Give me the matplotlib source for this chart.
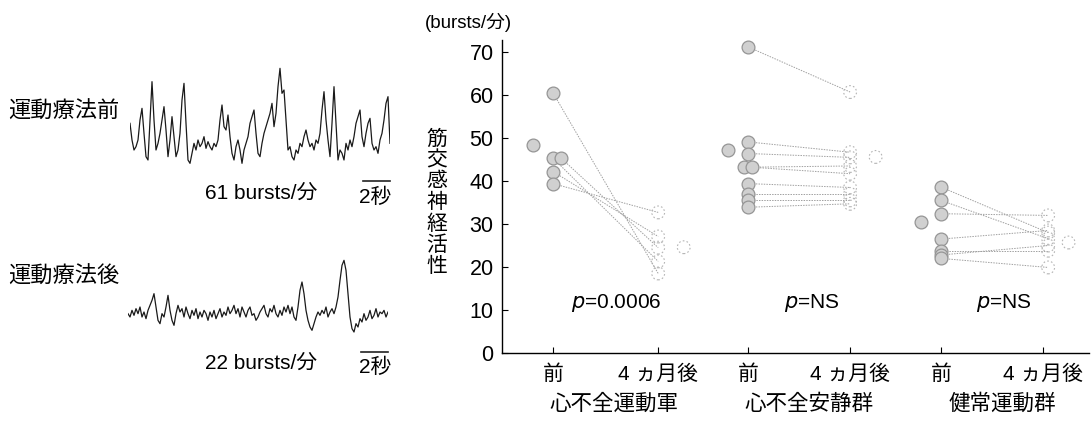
import matplotlib
matplotlib.use('Agg')
import matplotlib.pyplot as plt

plt.rcParams['font.family'] = ['Liberation Sans', 'Noto Sans CJK JP', 'DejaVu Sans']

# 筋交感神経活性 (bursts/分) — 各群の前 / 4ヵ月後
groups = ['心不全運動軍', '心不全安静群', '健常運動群']
phase_labels = ['前', '4 ヵ月後']

g1_pre = [60.5, 45.3, 45.3, 42.2, 39.4]
g1_post = [18.5, 21.3, 24.5, 27.1, 32.7]
g2_pre = [71.2, 49.1, 46.4, 43.2, 43.2, 39.4, 37.0, 35.5, 33.9]
g2_post = [60.7, 46.7, 45.5, 43.5, 41.7, 38.5, 37.0, 35.5, 34.7]
g3_pre = [38.6, 35.5, 32.4, 26.5, 23.8, 22.8, 22.0]
g3_post = [28.0, 26.6, 32.0, 28.5, 23.8, 25.0, 19.9]

pre_mean = [48.3, 47.3, 30.4]
post_mean = [24.6, 45.6, 25.7]
p_texts = ['=0.0006', '=NS', '=NS']

# 神経活動の記録 (任意単位, 約6.75サンプル/秒)
trace_before = [140, 90, 60, 70, 90, 150, 185, 110, 40, 30, 150, 265, 150, 60, 80, 110,
                150, 190, 120, 40, 90, 160, 100, 40, 60, 110, 210, 260, 140, 30, 20, 50,
                80, 60, 90, 70, 80, 100, 65, 85, 70, 60, 80, 70, 90, 150, 195, 130, 120,
                165, 100, 50, 30, 70, 90, 60, 20, 60, 80, 100, 140, 160, 180, 110, 50, 40,
                80, 110, 130, 150, 170, 200, 130, 170, 250, 305, 230, 240, 150, 60, 70, 40,
                30, 60, 50, 80, 70, 100, 120, 90, 70, 80, 60, 90, 80, 110, 180, 235, 150,
                90, 40, 140, 250, 140, 30, 60, 50, 30, 80, 60, 90, 70, 100, 140, 160, 180,
                100, 70, 110, 140, 155, 80, 60, 70, 50, 90, 110, 150, 200, 220, 80]
trace_after = [70, 60, 80, 65, 85, 70, 90, 60, 75, 55, 80, 95, 110, 130, 90, 50, 40, 70,
               60, 90, 125, 80, 50, 35, 70, 95, 75, 85, 60, 90, 70, 55, 80, 65, 85, 55, 75,
               60, 80, 70, 50, 75, 60, 80, 55, 70, 85, 60, 75, 65, 90, 70, 80, 95, 70, 85,
               60, 90, 75, 60, 80, 90, 65, 70, 50, 60, 75, 85, 95, 70, 60, 85, 75, 95, 70,
               60, 80, 65, 90, 75, 95, 70, 90, 60, 50, 90, 140, 165, 130, 80, 50, 30, 20,
               40, 60, 75, 65, 80, 70, 90, 60, 75, 85, 70, 90, 120, 170, 215, 230, 200, 130,
               60, 25, 15, 40, 30, 55, 45, 70, 50, 60, 80, 55, 65, 85, 60, 75, 70, 80, 60, 75]
samples_per_sec = 6.75
rate_before = '61 bursts/分'
rate_after = '22 bursts/分'

W, H = 1092, 422
fig = plt.figure(figsize=(W / 100, H / 100), dpi=100)


def px_axes(left, top, right, bottom):
    return fig.add_axes([left / W, 1 - bottom / H, (right - left) / W, (bottom - top) / H])


def px_text(x, y, s, **kw):
    fig.text(x / W, 1 - y / H, s, **kw)


# 左: 記録波形
for trace, box, label, rate, label_y, rate_y in [
        (trace_before, (130, 60, 390, 170), '運動療法前', rate_before, 112, 193),
        (trace_after, (128, 227, 388, 337), '運動療法後', rate_after, 277, 363)]:
    a = px_axes(*box)
    a.plot(range(len(trace)), trace, color='#1a1a1a', lw=0.9)
    a.set_xlim(0, len(trace) - 1)
    a.set_ylim(0, 330)
    a.axis('off')
    end = len(trace) - 1
    bar_y = -32 - (box[1] - 60) * 0.08
    a.plot([end - 2 * samples_per_sec, end], [bar_y, bar_y], color='#222', lw=1.2,
           clip_on=False)
    px_text(8, label_y, label, fontsize=16, ha='left', va='center')
    px_text(261, rate_y, rate, fontsize=15, ha='center', va='center')
    px_text(375, rate_y + 4, '2秒', fontsize=15, ha='center', va='center')

# 右: 群別プロット
ax = px_axes(502, 40, 1089, 353)
x_pre = [0, 1.91, 3.80]
x_post = [1.03, 2.91, 4.80]
pre_dx = [[0, 0, 0.08, 0, 0],
          [0, 0, 0, -0.04, 0.04, 0, 0, 0, 0],
          [0, 0, 0, 0, 0, 0, 0]]
post_dx = [0, 0, 0.05]

pre_kw = dict(s=85, facecolor='#d0d0d0', edgecolor='#959595', linewidths=0.9, zorder=3)
post_kw = dict(s=85, facecolor='none', edgecolor='#b4b4b4', linewidths=0.8,
               linestyles=(0, (1.5, 2.0)), zorder=3)

for k, (pre, post) in enumerate([(g1_pre, g1_post), (g2_pre, g2_post), (g3_pre, g3_post)]):
    xs_pre = [x_pre[k] + d for d in pre_dx[k]]
    xs_post = [x_post[k] + post_dx[k]] * len(post)
    for x0, y0, x1, y1 in zip(xs_pre, pre, xs_post, post):
        ax.plot([x0, x1], [y0, y1], color='#a0a0a0', lw=0.7, ls=(0, (1.5, 1.2)), zorder=2)
    ax.scatter(xs_pre, pre, **pre_kw)
    ax.scatter(xs_post, post, **post_kw)
    ax.scatter([x_pre[k] - 0.2], [pre_mean[k]], **pre_kw)
    ax.scatter([x_post[k] + 0.25], [post_mean[k]], **post_kw)
    ax.text(x_pre[k] + 0.62, 11.6, '$p$' + p_texts[k], fontsize=15, ha='center', va='center')

ax.set_xlim(-0.5, 5.25)
ax.set_ylim(0, 72.8)
ax.set_yticks(range(0, 71, 10))
ax.set_xticks(sorted(x_pre + x_post))
ax.set_xticklabels(phase_labels * 3)
ax.tick_params(axis='both', direction='in', length=4, width=0.8, labelsize=15.5)
ax.tick_params(axis='x', pad=8, labelsize=15)
ax.tick_params(axis='y', pad=6)
for side in ['top', 'right']:
    ax.spines[side].set_visible(False)
for side in ['left', 'bottom']:
    ax.spines[side].set_linewidth(1.0)

for k, name in enumerate(groups):
    ax.text(x_pre[k] + 0.6, -0.165, name, fontsize=15.5, ha='center', va='center',
            transform=ax.get_xaxis_transform())

px_text(437, 203, '\n'.join('筋交感神経活性'), fontsize=15, ha='center', va='center',
        linespacing=1.12)
px_text(425, 22, '(bursts/分)', fontsize=13.5, ha='left', va='center')

fig.savefig('out.png', dpi=100)
